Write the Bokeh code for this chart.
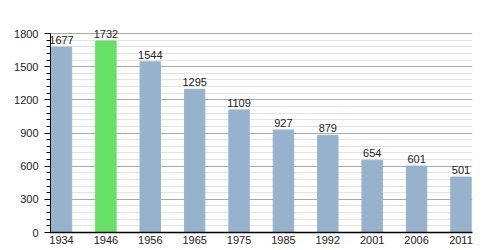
from bokeh.plotting import figure
from bokeh.models import ColumnDataSource, LabelSet, FixedTicker, Range1d
from bokeh.core.properties import value
from bokeh.embed import file_html
from bokeh.resources import INLINE

years = ["1934", "1946", "1956", "1965", "1975", "1985", "1992", "2001", "2006", "2011"]
population = [1677, 1732, 1544, 1295, 1109, 927, 879, 654, 601, 501]
y_ticks = [0, 300, 600, 900, 1200, 1500, 1800]

peak = max(population)
y_top = max(y_ticks)
xs = list(range(len(years)))
colors = ["#66e066" if v == peak else "#97b2cc" for v in population]
src = ColumnDataSource(dict(x=xs, top=population, color=colors,
                            label=[str(v) for v in population]))
minor = list(range(0, y_top + 1, 60))

p = figure(width=500, height=250, output_backend="svg", toolbar_location=None,
           x_range=Range1d(-0.248, len(years) - 1 + 0.26),
           y_range=Range1d(0, y_top * 212 / 199),
           min_border_left=50, min_border_right=28, min_border_top=20,
           min_border_bottom=18)
p.outline_line_color = None
p.background_fill_color = "white"
p.border_fill_color = "white"

p.vbar(x="x", top="top", width=0.46, bottom=0, color="color", source=src)

labels = LabelSet(x="x", y="top", text="label", source=src, y_offset=3,
                  text_align="center", text_baseline="bottom",
                  text_font=value("Liberation Sans"), text_font_size=value("11px"),
                  text_color="#222222")
p.add_layout(labels)

p.xgrid.grid_line_color = None
p.ygrid.grid_line_color = "#aaaaaa"
p.ygrid.minor_grid_line_color = "#e2e2e2"
p.ygrid.ticker = FixedTicker(ticks=y_ticks, minor_ticks=minor)

p.yaxis.ticker = FixedTicker(ticks=y_ticks, minor_ticks=minor)
p.yaxis.bounds = (0, y_top)
p.yaxis.major_tick_out = 6
p.yaxis.major_tick_in = 0
p.yaxis.minor_tick_out = 4
p.yaxis.minor_tick_in = 0
p.yaxis.major_label_standoff = 6
p.yaxis.axis_line_color = "black"
p.yaxis.major_tick_line_color = "black"
p.yaxis.minor_tick_line_color = "black"

p.xaxis.ticker = FixedTicker(ticks=xs)
p.xaxis.major_label_overrides = {i: y for i, y in zip(xs, years)}
p.xaxis.major_tick_out = 0
p.xaxis.major_tick_in = 0
p.xaxis.minor_tick_line_color = None
p.xaxis.major_label_standoff = 3
p.xaxis.axis_line_color = "black"
p.xaxis.axis_line_width = 1.5

for ax in (p.xaxis, p.yaxis):
    ax.major_label_text_font = "Liberation Sans"
    ax.major_label_text_font_size = "11px"
    ax.major_label_text_color = "#222222"

open("out.html", "w").write(file_html(p, INLINE))
